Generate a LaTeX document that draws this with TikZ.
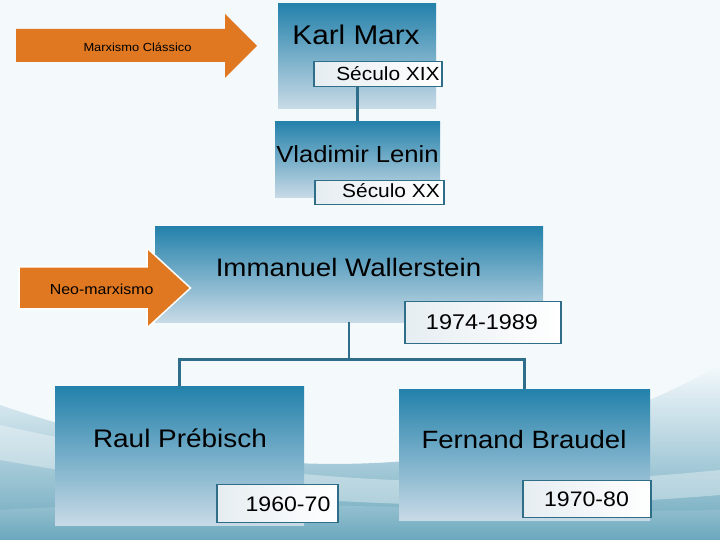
\documentclass[tikz,border=0pt]{standalone}
\usepackage{fontspec}
\setmainfont{Liberation Sans}
\newfontfamily\wfont[FakeStretch=1.1]{Liberation Sans}
\definecolor{bg}{HTML}{F4F9FC}
\definecolor{wave}{HTML}{6AA7BC}
\definecolor{boxtop}{HTML}{2381AB}
\definecolor{boxmid}{HTML}{5599BE}
\definecolor{boxbot}{HTML}{C8DAE6}
\definecolor{tagline}{HTML}{2E6E88}
\definecolor{tagl}{HTML}{E6EDF1}
\definecolor{conn}{HTML}{2F6E8A}
\definecolor{orangeA}{HTML}{E07822}
\tikzset{
  bluebox/.style={draw=none, inner sep=0pt, anchor=north west,
    top color=boxtop, middle color=boxmid, bottom color=boxbot},
  tagbox/.style={draw=tagline, line width=1.5pt, inner sep=0pt, anchor=north west,
    left color=tagl, middle color=white, right color=white},
  conline/.style={draw=conn, line width=2.5pt},
  txt/.style={anchor=base, inner sep=0pt, text=black},
  orarrow/.style={fill=orangeA, draw=white, line width=1.5pt, line join=miter}
}
\begin{document}
\begin{tikzpicture}[x=1pt,y=1pt]
\useasboundingbox (0,0) rectangle (720,540);
% background
\fill[bg] (0,0) rectangle (720,540);
\shade[top color=bg, bottom color=wave] (0,0) -- (0,135) .. controls (220,60) and (480,40) .. (720,175) -- (720,0) -- cycle;
\fill[white, opacity=0.35] (0,115) .. controls (200,70) and (420,40) .. (720,70) -- (720,45) .. controls (420,20) and (200,45) .. (0,80) -- cycle;
\shade[top color=wave!60!bg, bottom color=wave] (0,0) -- (0,30) .. controls (250,45) and (480,25) .. (720,30) -- (720,0) -- cycle;

% Karl Marx
\node[bluebox, minimum width=158pt, minimum height=105pt] (km) at (278,537) {};
\node[tagbox, minimum width=128pt, minimum height=25pt] (xix) at (313,479) {};
\node[txt, font=\wfont\fontsize{27}{30}\selectfont] (kmt) at (356,495) {Karl Marx};
\node[txt, font=\wfont\fontsize{19}{22}\selectfont] (xixt) at (388,459) {Século XIX};

% Vladimir Lenin
\node[bluebox, minimum width=165pt, minimum height=76pt] (len) at (275,419) {};
\node[tagbox, minimum width=129pt, minimum height=24pt] (xx) at (314,360) {};
\node[txt, font=\wfont\fontsize{23.3}{26}\selectfont] (lent) at (357.5,377) {Vladimir Lenin};
\node[txt, font=\wfont\fontsize{19}{22}\selectfont] (xxt) at (391,342) {Século XX};

\draw[conline] (xix.south -| len.north) -- (len.north);

% Wallerstein
\node[bluebox, minimum width=388pt, minimum height=96pt] (wal) at (155,314) {};
\node[tagbox, minimum width=156pt, minimum height=42pt] (wy) at (404,239) {};
\node[txt, font=\wfont\fontsize{25.2}{28}\selectfont] (walt) at (348.5,263) {Immanuel Wallerstein};
\node[txt, font=\wfont\fontsize{21.3}{24}\selectfont] (wyt) at (482,210) {1974-1989};

% Prebisch and Braudel
\node[bluebox, minimum width=249pt, minimum height=139pt] (raul) at (55,154) {};
\node[bluebox, minimum width=251pt, minimum height=131pt] (brau) at (399,151) {};
\node[tagbox, minimum width=121pt, minimum height=38pt] (ry) at (216,56) {};
\node[tagbox, minimum width=128pt, minimum height=37pt] (by) at (522,60) {};
\node[txt, font=\wfont\fontsize{25.4}{28}\selectfont] (rault) at (180,92) {Raul Prébisch};
\node[txt, font=\wfont\fontsize{25}{28}\selectfont] (braut) at (524,91) {Fernand Braudel};
\node[txt, font=\wfont\fontsize{21}{24}\selectfont] (ryt) at (288,28) {1960-70};
\node[txt, font=\wfont\fontsize{21}{24}\selectfont] (byt) at (586.5,33) {1970-80};

\draw[conline] (wal.south) -- ++(0,-37) coordinate (j) -| (raul.north);
\draw[conline] (j) -| (brau.north);

% orange arrows
\path[orarrow, draw=none] (16,511) -- (225,511) -- (225,526) -- (257,494) -- (225,462) -- (225,478) -- (16,478) -- cycle;
\node[txt, font=\wfont\fontsize{11.7}{14}\selectfont] (a1t) at (137.5,488) {Marxismo Clássico};
\path[orarrow] (19,273) -- (147,273) -- (147,292) -- (190.5,252) -- (147,212) -- (147,231) -- (19,231) -- cycle;
\node[txt, font=\wfont\fontsize{14.5}{17}\selectfont] (a2t) at (101.7,245) {Neo-marxismo};
\end{tikzpicture}
\end{document}
